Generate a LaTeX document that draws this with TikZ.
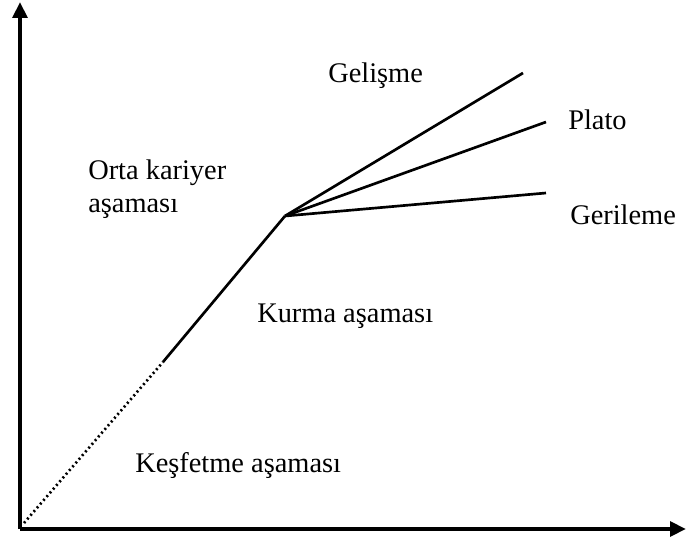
\documentclass[tikz,border=0pt]{standalone}
\usepackage{fontspec}
\setmainfont{Liberation Serif}
\usetikzlibrary{arrows.meta}
\begin{document}
\begin{tikzpicture}[x=0.75pt,y=-0.75pt,
  lbl/.style={anchor=base west,inner sep=0pt,font=\fontsize{21.3}{32}\selectfont},
  axis/.style={line width=2.8pt,-{Triangle[length=12pt,width=11pt]}},
  curve/.style={line width=2pt},
  dotline/.style={line width=2pt,dash pattern=on 1.5pt off 2.2pt}]
\useasboundingbox (0,0) rectangle (686,545);
\coordinate (O) at (20,529);
\coordinate (Ytop) at (20,2);
\coordinate (Xend) at (686,529);
\coordinate (S) at (24,523);
\coordinate (M) at (163,362);
\coordinate (P) at (285,216);
\coordinate (E1) at (523,73);
\coordinate (E2) at (546,122);
\coordinate (E3) at (546,193);
\draw[axis] (O) -- (Ytop);
\draw[axis] (O) -- (Xend);
\draw[dotline] (S) -- (M);
\draw[curve,line join=round] (M) -- (P);
\draw[curve] (P) -- (E1);
\draw[curve] (P) -- (E2);
\draw[curve] (P) -- (E3);
\node[lbl] (gel) at (328,83) {Gelişme};
\node[lbl] (pla) at (568,130) {Plato};
\node[lbl] (ger) at (570,225) {Gerileme};
\node[lbl] (ort1) at (88,180) {Orta kariyer};
\node[lbl] (ort2) at (88,213) {aşaması};
\node[lbl] (kur) at (257,323) {Kurma aşaması};
\node[lbl] (kes) at (135,472) {Keşfetme aşaması};
\end{tikzpicture}
\end{document}
